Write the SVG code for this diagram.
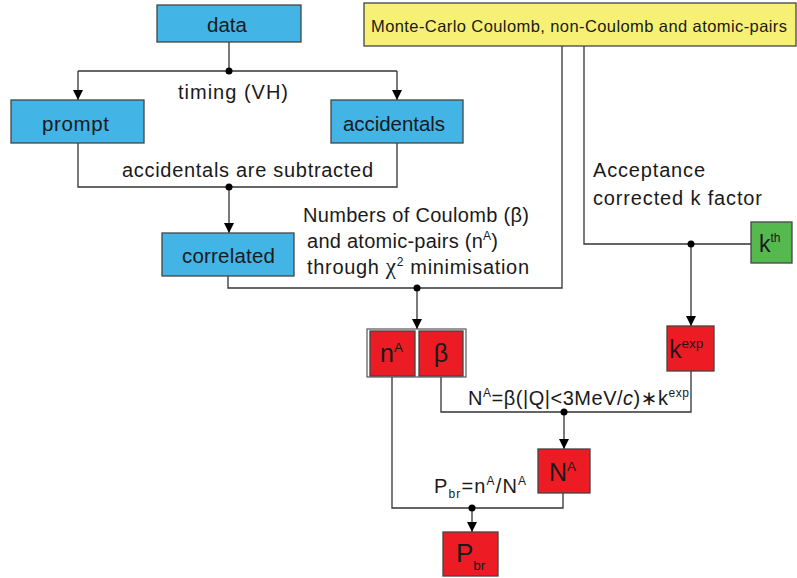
<svg xmlns="http://www.w3.org/2000/svg" width="797" height="578" viewBox="0 0 797 578">
<style>
text{font-family:"Liberation Sans","DejaVu Sans",sans-serif;fill:#1a1a1a}
.box{stroke:#444;stroke-width:1.3}
.blue{fill:#42b4e6}
.red{fill:#ed1c24}
.green{fill:#55b94f}
.yellow{fill:#f6f075}
.lbl{font-size:20.5px}
.sup{font-size:12px}
.ann{font-size:20px}
.edge{fill:none;stroke:#333;stroke-width:1.3}
.dot{fill:#000}
</style>
<defs>
<marker id="arr" viewBox="0 0 10 12" refX="10" refY="5" markerWidth="10" markerHeight="12" markerUnits="userSpaceOnUse" orient="auto">
<path d="M0,0 L10,5 L0,10 Z" fill="#000"/>
</marker>
</defs>

<g id="connectors">
<path class="edge" d="M229,42 V71"/>
<path class="edge" d="M78,71 H397"/>
<path class="edge" d="M78,71 V100" marker-end="url(#arr)"/>
<path class="edge" d="M397,71 V100" marker-end="url(#arr)"/>
<path class="edge" d="M78,143 V187 H397 V143"/>
<path class="edge" d="M229,187 V233" marker-end="url(#arr)"/>
<path class="edge" d="M228,276 V288 H562 V46"/>
<path class="edge" d="M417,288 V329" marker-end="url(#arr)"/>
<path class="edge" d="M584,46 V244 H751"/>
<path class="edge" d="M691,244 V326" marker-end="url(#arr)"/>
<path class="edge" d="M441,376 V412 H691 V371"/>
<path class="edge" d="M564,412 V449" marker-end="url(#arr)"/>
<path class="edge" d="M392,376 V508 H563 V493"/>
<path class="edge" d="M472,508 V532" marker-end="url(#arr)"/>
<circle class="dot" cx="229" cy="71" r="3.5"/>
<circle class="dot" cx="229" cy="187" r="3.5"/>
<circle class="dot" cx="417" cy="288" r="3.5"/>
<circle class="dot" cx="691" cy="244" r="3.5"/>
<circle class="dot" cx="564" cy="412" r="3.5"/>
<circle class="dot" cx="472" cy="508" r="3.5"/>
<text class="ann" x="178" y="99" textLength="110" lengthAdjust="spacing">timing (VH)</text>
<text class="ann" x="122" y="177" textLength="251" lengthAdjust="spacing">accidentals are subtracted</text>
<text class="ann" x="303" y="222" textLength="226" lengthAdjust="spacing">Numbers of Coulomb (β)</text>
<text class="ann" x="307" y="248" textLength="191" lengthAdjust="spacing">and atomic-pairs (n<tspan class="sup" dy="-8">A</tspan><tspan dy="8">)</tspan></text>
<text class="ann" x="307" y="274" textLength="222" lengthAdjust="spacing">through <tspan font-family="Liberation Serif" font-size="23">χ</tspan><tspan class="sup" dy="-8">2</tspan><tspan dy="8"> minimisation</tspan></text>
<text class="ann" x="593" y="177" textLength="112" lengthAdjust="spacing">Acceptance</text>
<text class="ann" x="593" y="205" textLength="169" lengthAdjust="spacing">corrected k factor</text>
<text class="ann" x="468" y="405" textLength="221" lengthAdjust="spacing">N<tspan class="sup" dy="-8">A</tspan><tspan dy="8">=β(|Q|&lt;3MeV/</tspan><tspan font-style="italic">c</tspan>)∗k<tspan class="sup" dy="-8">exp</tspan></text>
<text class="ann" x="434" y="493" textLength="92" lengthAdjust="spacing">P<tspan class="sup" dy="5">br</tspan><tspan dy="-5">=n</tspan><tspan class="sup" dy="-8">A</tspan><tspan dy="8">/N</tspan><tspan class="sup" dy="-8">A</tspan></text>
</g>

<g id="data"><rect class="box blue" x="157" y="5" width="144" height="37"/><text class="lbl" x="207" y="32" textLength="40" lengthAdjust="spacing">data</text></g>
<g id="prompt"><rect class="box blue" x="11" y="100" width="133" height="43"/><text class="lbl" x="42" y="131" textLength="67" lengthAdjust="spacing">prompt</text></g>
<g id="accidentals"><rect class="box blue" x="331" y="100" width="132" height="43"/><text class="lbl" x="343" y="131" textLength="102" lengthAdjust="spacing">accidentals</text></g>
<g id="correlated"><rect class="box blue" x="162" y="233" width="132" height="43"/><text class="lbl" x="182" y="263" textLength="93" lengthAdjust="spacing">correlated</text></g>
<g id="mc"><rect class="box yellow" x="364" y="3" width="432" height="43"/><text x="371" y="32" font-size="16.5" textLength="416" lengthAdjust="spacing">Monte-Carlo Coulomb, non-Coulomb and atomic-pairs</text></g>
<g id="kth"><rect class="box green" x="751" y="222" width="41" height="41"/><text x="759" y="252" font-size="23">k<tspan class="sup" dy="-10">th</tspan></text></g>
<g id="kexp"><rect class="box red" x="667" y="326" width="47" height="45"/><text x="669" y="358" font-size="25">k<tspan font-size="13.5" dy="-10">exp</tspan></text></g>
<g id="nA-beta">
<rect x="367" y="329" width="99" height="48" fill="#fff" stroke="#555" stroke-width="1.2"/>
<rect class="box red" x="370" y="331" width="45" height="45"/><text x="380" y="362" font-size="25">n<tspan font-size="13.5" dy="-10">A</tspan></text>
<rect class="box red" x="419" y="331" width="44" height="45"/><text x="441" y="362" font-size="25" text-anchor="middle">β</text>
</g>
<g id="NA"><rect class="box red" x="538" y="449" width="52" height="44"/><text x="549" y="481" font-size="25">N<tspan font-size="13.5" dy="-10">A</tspan></text></g>
<g id="Pbr"><rect class="box red" x="443" y="532" width="55" height="44"/><text x="456" y="562" font-size="26">P<tspan font-size="13.5" dy="8">br</tspan></text></g>
</svg>
